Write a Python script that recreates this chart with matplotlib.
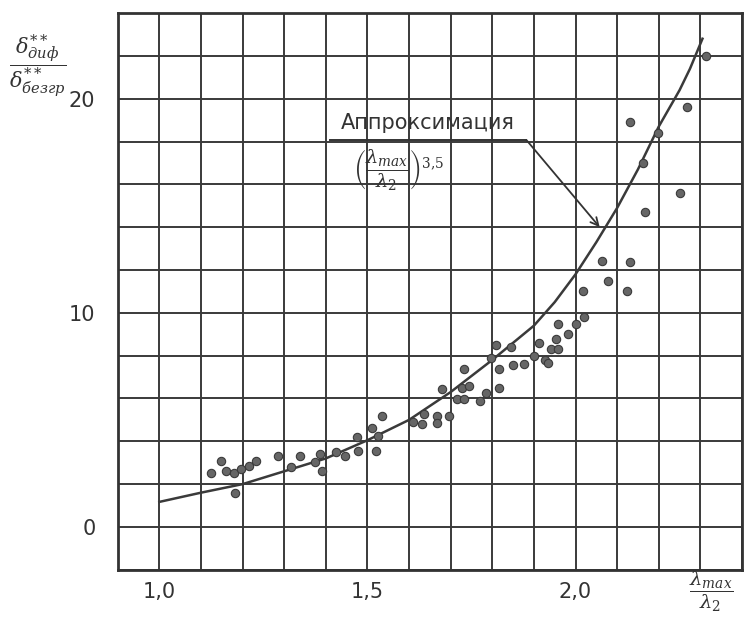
import matplotlib.pyplot as plt
import numpy as np

plt.rcParams['mathtext.fontset'] = 'dejavuserif'

# approximation curve
curve_x = [1.0, 1.1, 1.2, 1.3, 1.4, 1.5, 1.6, 1.7, 1.8, 1.9, 1.95, 2.0, 2.05,
           2.1, 2.15, 2.2, 2.25, 2.275, 2.305]
curve_y = [1.17, 1.6, 2.0, 2.6, 3.2, 4.05, 5.0, 6.3, 7.8, 9.4, 10.5, 11.8, 13.3,
           14.9, 16.7, 18.7, 20.4, 21.4, 22.8]

# measured points
pts_x = [1.125, 1.149, 1.159, 1.18, 1.183, 1.197, 1.216, 1.233, 1.286, 1.317,
         1.337, 1.373, 1.385, 1.39, 1.425, 1.445, 1.474, 1.478, 1.51, 1.534,
         1.52, 1.526, 1.61, 1.63, 1.637, 1.666, 1.666, 1.697, 1.68, 1.714,
         1.733, 1.728, 1.745, 1.733, 1.77, 1.786, 1.817, 1.798, 1.815, 1.81,
         1.846, 1.849, 1.875, 1.899, 1.913, 1.926, 1.933, 1.942, 1.952, 1.957,
         1.959, 1.983, 2.0, 2.02, 2.017, 2.077, 2.123, 2.063, 2.13, 2.166,
         2.25, 2.163, 2.197, 2.13, 2.267, 2.313]
pts_y = [2.54, 3.1, 2.63, 2.54, 1.6, 2.72, 2.86, 3.1, 3.3, 2.8,
         3.33, 3.05, 3.43, 2.63, 3.5, 3.3, 4.2, 3.57, 4.6, 5.2,
         3.57, 4.27, 4.9, 4.8, 5.26, 5.2, 4.84, 5.16, 6.43, 5.96,
         5.96, 6.5, 6.6, 7.37, 5.9, 6.24, 6.5, 7.9, 7.37, 8.5,
         8.4, 7.56, 7.6, 8.0, 8.6, 7.8, 7.65, 8.3, 8.8, 8.3,
         9.5, 9.0, 9.5, 9.8, 11.0, 11.5, 11.0, 12.4, 12.35, 14.7,
         15.6, 17.0, 18.4, 18.9, 19.6, 22.0]

x_labels = {1.0: '1,0', 1.5: '1,5', 2.0: '2,0'}
y_labels = {0: '0', 10: '10', 20: '20'}

ink = '#333333'

fig = plt.figure(figsize=(7.45, 6.2), dpi=100)
ax = fig.add_axes([0.158, 0.081, 0.838, 0.898])

ax.set_xlim(0.9, 2.4)
ax.set_ylim(-2, 24)

xt = np.round(np.arange(0.9, 2.41, 0.1), 1)
yt = np.arange(-2, 25, 2)
ax.set_xticks(xt)
ax.set_xticklabels([x_labels.get(v, '') for v in xt])
ax.set_yticks(yt)
ax.set_yticklabels([y_labels.get(int(v), '') for v in yt])
ax.tick_params(length=0, labelsize=15, colors=ink)
ax.tick_params(axis='y', pad=16)
ax.tick_params(axis='x', pad=9)

ax.grid(True, color='#3a3a3a', lw=1.4)
ax.set_axisbelow(True)
for s in ax.spines.values():
    s.set_color(ink)
    s.set_linewidth(2)

ax.plot(curve_x, curve_y, color='#3a3a3a', lw=1.8, zorder=3)
ax.plot(pts_x, pts_y, 'o', ms=6, color='#666666', mec='#3a3a3a', mew=0.8, zorder=4)

# annotation
ax.text(1.645, 18.85, 'Аппроксимация', fontsize=15, color=ink, ha='center', va='center')
ax.plot([1.41, 1.882], [18.07, 18.07], color=ink, lw=1.4, zorder=3)
ax.annotate('', xy=(2.058, 14.0), xytext=(1.882, 18.07),
            arrowprops=dict(arrowstyle='->', color=ink, lw=1.3,
                            mutation_scale=14, shrinkA=0, shrinkB=0), zorder=3)
ax.text(1.575, 17.75, r'$\left(\dfrac{\lambda_{max}}{\lambda_2}\right)^{3{,}5}$',
        fontsize=14, color=ink, ha='center', va='top')

# axis labels
fig.text(0.05, 0.895, r'$\dfrac{\delta^{**}_{\mathit{диф}}}{\delta^{**}_{\mathit{безгр}}}$',
         fontsize=15, color=ink, ha='center', va='center')
fig.text(0.955, 0.045, r'$\dfrac{\lambda_{max}}{\lambda_2}$', fontsize=14, color=ink,
         ha='center', va='center')

fig.savefig('out.png', dpi=100)
